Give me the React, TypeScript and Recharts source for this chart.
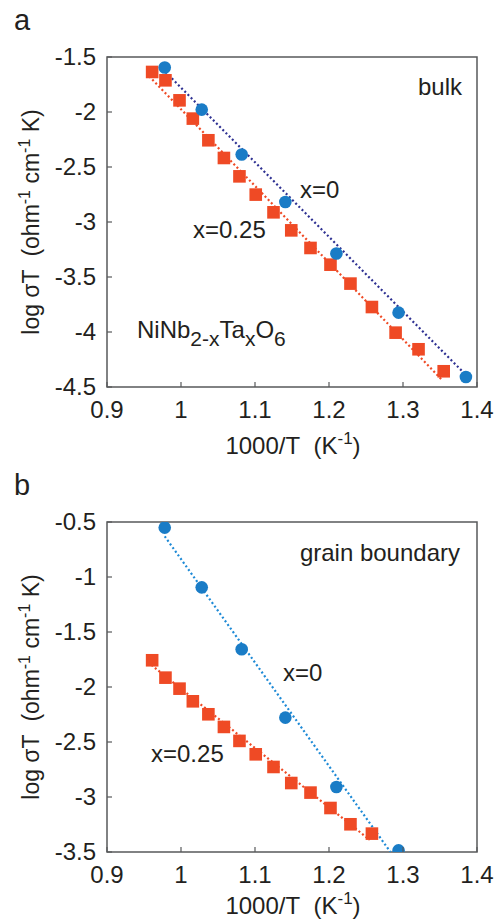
import { ScatterChart, Scatter, XAxis, YAxis, ReferenceArea } from "recharts"

// panel a (bulk)
const bulkX0 = [
  { x: 0.978, y: -1.596 },
  { x: 1.028, y: -1.978 },
  { x: 1.082, y: -2.387 },
  { x: 1.141, y: -2.818 },
  { x: 1.21, y: -3.287 },
  { x: 1.294, y: -3.824 },
  { x: 1.385, y: -4.409 },
]
const bulkX025 = [
  { x: 0.961, y: -1.636 },
  { x: 0.979, y: -1.712 },
  { x: 0.998, y: -1.894 },
  { x: 1.016, y: -2.06 },
  { x: 1.037, y: -2.257 },
  { x: 1.058, y: -2.418 },
  { x: 1.079, y: -2.585 },
  { x: 1.101, y: -2.751 },
  { x: 1.125, y: -2.912 },
  { x: 1.149, y: -3.076 },
  { x: 1.175, y: -3.236 },
  { x: 1.202, y: -3.388 },
  { x: 1.229, y: -3.56 },
  { x: 1.258, y: -3.773 },
  { x: 1.29, y: -4.006 },
  { x: 1.321, y: -4.157 },
  { x: 1.355, y: -4.357 },
]
const bulkFitX0 = [
  { x: 0.979, y: -1.636 },
  { x: 1.385, y: -4.39 },
]
const bulkFitX025 = [
  { x: 0.957, y: -1.675 },
  { x: 1.352, y: -4.43 },
]

// panel b (grain boundary)
const gbX0 = [
  { x: 0.978, y: -0.551 },
  { x: 1.028, y: -1.094 },
  { x: 1.082, y: -1.657 },
  { x: 1.141, y: -2.278 },
  { x: 1.21, y: -2.909 },
  { x: 1.294, y: -3.485 },
]
const gbX025 = [
  { x: 0.961, y: -1.757 },
  { x: 0.979, y: -1.915 },
  { x: 0.998, y: -2.015 },
  { x: 1.016, y: -2.13 },
  { x: 1.037, y: -2.248 },
  { x: 1.058, y: -2.363 },
  { x: 1.079, y: -2.49 },
  { x: 1.101, y: -2.612 },
  { x: 1.125, y: -2.727 },
  { x: 1.149, y: -2.873 },
  { x: 1.175, y: -2.96 },
  { x: 1.202, y: -3.1 },
  { x: 1.229, y: -3.248 },
  { x: 1.258, y: -3.333 },
]
const gbFitX0 = [
  { x: 0.978, y: -0.63 },
  { x: 1.283, y: -3.5 },
]
const gbFitX025 = [
  { x: 0.96, y: -1.8 },
  { x: 1.255, y: -3.39 },
]

const xTicks = [0.9, 1, 1.1, 1.2, 1.3, 1.4]
const yTicksA = [-1.5, -2, -2.5, -3, -3.5, -4, -4.5]
const yTicksB = [-0.5, -1, -1.5, -2, -2.5, -3, -3.5]

const FONT = "'Liberation Sans', Arial, sans-serif"
const FRAME = "#58595b"
const BLUE = "#1a7cc6"
const RED = "#ef4a25"
const INK = "#231f20"

const fmt = (v: number) => String(v)

const renderXTick = (props: any) => {
  const { x, y, payload } = props
  return (
    <g key={"xt" + payload.value}>
      <line x1={x} x2={x} y1={y} y2={y - 5} stroke={FRAME} strokeWidth={1.2} />
      <text x={x} y={y + 31} textAnchor="middle" fontSize={24} fontFamily={FONT} fill={INK}>
        {fmt(payload.value)}
      </text>
    </g>
  )
}

const renderYTick = (props: any) => {
  const { x, y, payload } = props
  return (
    <g key={"yt" + payload.value}>
      <line x1={x} x2={x + 5} y1={y} y2={y} stroke={FRAME} strokeWidth={1.2} />
      <text x={x - 11} y={y + 8} textAnchor="end" fontSize={24} fontFamily={FONT} fill={INK}>
        {fmt(payload.value)}
      </text>
    </g>
  )
}

const Circle = (props: any) => <circle cx={props.cx} cy={props.cy} r={6.3} fill={BLUE} />
const Square = (props: any) => (
  <rect x={props.cx - 6.3} y={props.cy - 6.3} width={12.6} height={12.6} fill={RED} />
)
const NoDot = () => null

const txt = { fontFamily: FONT, fontSize: 24, fill: INK }

function AxisTitles({ xLabelY }: { xLabelY: number }) {
  return (
    <>
      <text {...txt} fontSize={23} x={0} y={0} transform="translate(39,222) rotate(-90)" textAnchor="middle">
        log σT{"\u00a0\u00a0"}(ohm
        <tspan fontSize={16} dy={-9}>-1</tspan>
        <tspan dy={9}> cm</tspan>
        <tspan fontSize={16} dy={-9}>-1</tspan>
        <tspan dy={9}> K)</tspan>
      </text>
      <text {...txt} x={293} y={xLabelY} textAnchor="middle">
        1000/T{"\u00a0\u00a0"}(K
        <tspan fontSize={17} dy={-10}>-1</tspan>
        <tspan dy={10}>)</tspan>
      </text>
    </>
  )
}

type PanelProps = {
  letter: string
  yDomain: [number, number]
  yTicks: number[]
  x0: { x: number; y: number }[]
  x025: { x: number; y: number }[]
  fit0: { x: number; y: number }[]
  fit025: { x: number; y: number }[]
  fit0Color: string
  xLabelY: number
  children?: any
}

function Panel({ letter, yDomain, yTicks, x0, x025, fit0, fit025, fit0Color, xLabelY, children }: PanelProps) {
  return (
    <div style={{ position: "relative", width: 496, height: 460 }}>
      <ScatterChart width={496} height={460} margin={{ top: 57, right: 19, bottom: 43, left: 47 }}>
        <XAxis
          type="number"
          dataKey="x"
          domain={[0.9, 1.4]}
          ticks={xTicks}
          interval={0}
          height={30}
          tickSize={0}
          tickMargin={0}
          axisLine={false}
          tick={renderXTick}
          allowDataOverflow
        />
        <YAxis
          type="number"
          dataKey="y"
          domain={yDomain}
          ticks={yTicks}
          interval={0}
          width={60}
          tickSize={0}
          tickMargin={0}
          axisLine={false}
          tick={renderYTick}
          allowDataOverflow
        />
        <ReferenceArea
          x1={0.9}
          x2={1.4}
          y1={yDomain[0]}
          y2={yDomain[1]}
          fill="none"
          stroke={FRAME}
          strokeWidth={1.5}
        />
        <Scatter
          data={fit025}
          line={{ stroke: RED, strokeWidth: 2.2, strokeDasharray: "2 2.5" }}
          shape={<NoDot />}
          isAnimationActive={false}
        />
        <Scatter
          data={fit0}
          line={{ stroke: fit0Color, strokeWidth: 2.2, strokeDasharray: "2 2.5" }}
          shape={<NoDot />}
          isAnimationActive={false}
        />
        <Scatter data={x025} shape={<Square />} isAnimationActive={false} />
        <Scatter data={x0} shape={<Circle />} isAnimationActive={false} />
      </ScatterChart>
      <svg
        width={496}
        height={460}
        style={{ position: "absolute", left: 0, top: 0, pointerEvents: "none" }}
      >
        <text {...txt} x={14} y={30} fontSize={29}>
          {letter}
        </text>
        <AxisTitles xLabelY={xLabelY} />
        {children}
      </svg>
    </div>
  )
}

export default function App() {
  return (
    <div style={{ position: "absolute", left: 0, top: 0, width: 496, height: 921, background: "#fff", overflow: "hidden" }}>
      <Panel
        letter="a"
        yDomain={[-4.5, -1.5]}
        yTicks={yTicksA}
        x0={bulkX0}
        x025={bulkX025}
        fit0={bulkFitX0}
        fit025={bulkFitX025}
        fit0Color="#2e3192"
        xLabelY={454}
      >
        <text {...txt} x={462} y={95} textAnchor="end">bulk</text>
        <text {...txt} x={300} y={198}>x=0</text>
        <text {...txt} x={193} y={238}>x=0.25</text>
        <text {...txt} x={137} y={338}>
          NiNb
          <tspan fontSize={21} dy={8}>2-x</tspan>
          <tspan dy={-8}>Ta</tspan>
          <tspan fontSize={21} dy={8}>x</tspan>
          <tspan dy={-8}>O</tspan>
          <tspan fontSize={21} dy={8}>6</tspan>
        </text>
      </Panel>
      <div style={{ position: "absolute", left: 0, top: 465 }}>
        <Panel
          letter="b"
          yDomain={[-3.5, -0.5]}
          yTicks={yTicksB}
          x0={gbX0}
          x025={gbX025}
          fit0={gbFitX0}
          fit025={gbFitX025}
          fit0Color="#1e8ad6"
          xLabelY={449}
        >
          <text {...txt} x={460} y={96} textAnchor="end">grain boundary</text>
          <text {...txt} x={283} y={216}>x=0</text>
          <text {...txt} x={151} y={297}>x=0.25</text>
        </Panel>
      </div>
    </div>
  )
}
